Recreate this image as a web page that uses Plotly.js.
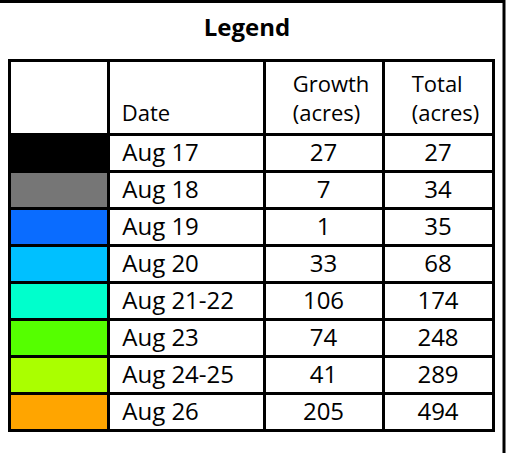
<!DOCTYPE html>
<html>
<head>
<meta charset="utf-8">
<script src="https://cdn.plot.ly/plotly-3.0.1.min.js"></script>
<style>html,body{margin:0;padding:0;background:#fff;}#chart{width:508px;height:453px;}</style>
</head>
<body>
<div id="chart"></div>
<script>
var dates = ["Aug 17", "Aug 18", "Aug 19", "Aug 20", "Aug 21-22", "Aug 23", "Aug 24-25", "Aug 26"];
var growth = [27, 7, 1, 33, 106, 74, 41, 205];
var total = [27, 34, 35, 68, 174, 248, 289, 494];
var swatchColors = ["#000000", "#767676", "#0A6CFF", "#00C0FF", "#00FFCC", "#55FF00", "#AAFF00", "#FFA500"];
var headers = ["", "Date", "Growth<br>(acres)", "Total<br>(acres)"];

var W = 508, H = 453;
var tableLeft = 9, tableRight = 493, tableTop = 60;
var font = "'Open Sans', sans-serif";
var pad = "\u00A0";

var blanks = dates.map(function(){ return ""; });
var dateCells = dates.map(function(d){ return pad + d; });
var headerCells = [
  headers[0],
  "\u00A0<br>" + pad + headers[1],
  headers[2].replace("<br>", pad + "<br>") + pad,
  headers[3].replace("<br>", pad + "<br>") + pad
];

var trace = {
  type: "table",
  domain: {x: [tableLeft / W, tableRight / W], y: [0, 1 - tableTop / H]},
  columnwidth: [99, 156, 119, 110],
  header: {
    values: headerCells,
    align: ["left", "left", "right", "right"],
    height: 73,
    line: {color: "#000", width: 3},
    fill: {color: "#ffffff"},
    font: {family: font, size: 22, color: "#000"}
  },
  cells: {
    values: [blanks, dateCells, growth, total],
    align: ["left", "left", "center", "center"],
    height: 37,
    line: {color: "#000", width: 3},
    fill: {color: [swatchColors, "#ffffff", "#ffffff", "#ffffff"]},
    font: {family: font, size: 24, color: "#000"}
  }
};

var layout = {
  width: W, height: H,
  margin: {l: 0, r: 0, t: 0, b: 0},
  paper_bgcolor: "#ffffff",
  title: {
    text: "<b>Legend</b>",
    x: 247 / W, xanchor: "center",
    y: 1 - 28 / H, yanchor: "middle", yref: "container",
    font: {family: font, size: 24, color: "#000"}
  },
  shapes: [
    {type: "line", xref: "paper", yref: "paper", x0: 0, x1: 505 / W, y0: 1 - 1.5 / H, y1: 1 - 1.5 / H, line: {color: "#000", width: 3}},
    {type: "line", xref: "paper", yref: "paper", x0: 504 / W, x1: 504 / W, y0: 0, y1: 1, line: {color: "#000", width: 3}}
  ]
};

Plotly.newPlot("chart", [trace], layout, {displayModeBar: false, staticPlot: true});
</script>
</body>
</html>
